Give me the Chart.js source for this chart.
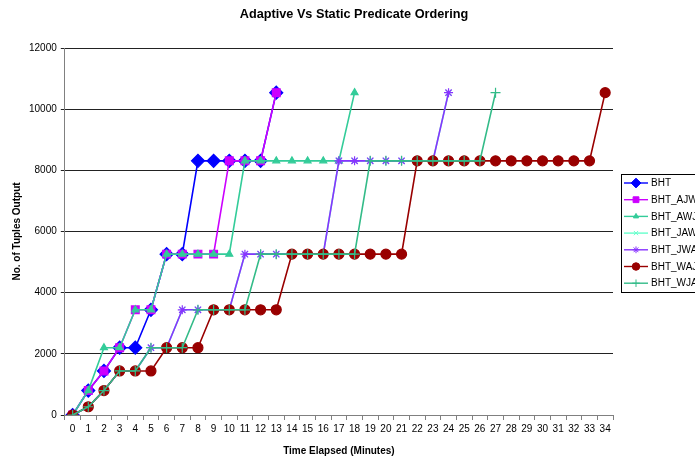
<!DOCTYPE html>
<html>
<head>
<meta charset="utf-8">
<title>Adaptive Vs Static Predicate Ordering</title>
<script src="https://cdn.jsdelivr.net/npm/chart.js@4/dist/chart.umd.min.js"></script>
<style>
  html, body { margin: 0; padding: 0; background: #fff; overflow: hidden; }
  #box { width: 695px; height: 459px; }
</style>
</head>
<body>
<div id="box"><canvas id="chart" width="695" height="459"></canvas></div>
<script>
// data (minutes 0..34, tuples output)
const minutes = ['0','1','2','3','4','5','6','7','8','9','10','11','12','13','14','15','16',
  '17','18','19','20','21','22','23','24','25','26','27','28','29','30','31','32','33','34'];
const yTicks = [0, 2000, 4000, 6000, 8000, 10000, 12000];

const bht    = [0, 800, 1440, 2200, 2200, 3440, 5260, 5260, 8310, 8310, 8310, 8310, 8310, 10540];
const bhtAJW = [0, 800, 1440, 2200, 3440, 3440, 5260, 5260, 5260, 5260, 8310, 8310, 8310, 10540];
const bhtAWJ = [0, 800, 2200, 2200, 3440, 3440, 5260, 5260, 5260, 5260, 5260, 8310, 8310, 8310,
  8310, 8310, 8310, 8310, 10540];
const bhtJAW = [0, 270, 800, 1440, 1440, 2200, 2200, 3440, 3440, 3440, 3440, 5260, 5260, 5260,
  5260, 5260, 5260, 8310, 8310, 8310, 8310, 8310, 8310, 8310, 10540];
const bhtJWA = [0, 270, 800, 1440, 1440, 2200, 2200, 3440, 3440, 3440, 3440, 5260, 5260, 5260,
  5260, 5260, 5260, 8310, 8310, 8310, 8310, 8310, 8310, 8310, 10540];
const bhtWAJ = [0, 270, 800, 1440, 1440, 1440, 2200, 2200, 2200, 3440, 3440, 3440, 3440, 3440,
  5260, 5260, 5260, 5260, 5260, 5260, 5260, 5260, 8310, 8310, 8310, 8310, 8310, 8310, 8310,
  8310, 8310, 8310, 8310, 8310, 10540];
const bhtWJA = [0, 270, 800, 1440, 1440, 2200, 2200, 2200, 3440, 3440, 3440, 3440, 5260, 5260,
  5260, 5260, 5260, 5260, 5260, 8310, 8310, 8310, 8310, 8310, 8310, 8310, 8310, 10540];

const chartTitle = 'Adaptive Vs Static Predicate Ordering';
const FONT = "'Liberation Sans', Arial, sans-serif";

Chart.defaults.font.family = FONT;
Chart.defaults.font.size = 10;
Chart.defaults.color = '#000';

function series(label, data, color, style, radius, order) {
  return {
    label: label,
    data: data,
    borderColor: color,
    backgroundColor: color,
    borderWidth: 1.6,
    pointStyle: style,
    pointRadius: radius,
    pointHoverRadius: radius,
    pointBackgroundColor: color,
    pointBorderColor: color,
    pointBorderWidth: 1.2,
    tension: 0,
    fill: false,
    order: order // later series on top, like the original
  };
}

// title + legend box (legend runs off the right edge, as in the picture)
const sideLegend = {
  id: 'sideLegend',
  afterDraw(chart) {
    const ctx = chart.ctx;
    ctx.save();
    ctx.fillStyle = '#000';
    ctx.font = 'bold 12.7px ' + FONT;
    ctx.textAlign = 'center';
    ctx.textBaseline = 'middle';
    ctx.fillText(chartTitle, 354, 14);

    const x0 = 621, y0 = 174, rowH = 16.7;
    ctx.strokeStyle = '#000';
    ctx.lineWidth = 1;
    ctx.strokeRect(x0 + 0.5, y0 + 0.5, 120, 118);
    ctx.font = '10px ' + FONT;
    ctx.textAlign = 'left';
    chart.data.datasets.forEach((ds, i) => {
      const y = y0 + 9 + i * rowH;
      ctx.strokeStyle = ds.borderColor;
      ctx.fillStyle = ds.borderColor;
      ctx.lineWidth = 1.4;
      ctx.beginPath();
      ctx.moveTo(x0 + 3, y);
      ctx.lineTo(x0 + 27, y);
      ctx.stroke();
      ctx.lineWidth = 1;
      Chart.helpers.drawPoint(ctx, {
        pointStyle: ds.pointStyle, radius: ds.pointRadius * 0.75, rotation: 0, borderWidth: 1
      }, x0 + 15, y);
      ctx.fillStyle = '#000';
      ctx.fillText(ds.label, x0 + 30, y + 0.5);
    });
    ctx.restore();
  }
};

new Chart(document.getElementById('chart'), {
  type: 'line',
  data: {
    labels: minutes,
    datasets: [
      series('BHT', bht, '#0000FF', 'rectRot', 6.5, 6),
      series('BHT_AJW', bhtAJW, '#CC00FF', 'rect', 5.5, 5),
      series('BHT_AWJ', bhtAWJ, '#33CC99', 'triangle', 4, 4),
      series('BHT_JAW', bhtJAW, '#66FFCC', 'crossRot', 4, 3),
      series('BHT_JWA', bhtJWA, '#8833FF', 'star', 4.5, 2),
      series('BHT_WAJ', bhtWAJ, '#990000', 'circle', 5, 1),
      series('BHT_WJA', bhtWJA, '#33BB88', 'cross', 5, 0)
    ]
  },
  options: {
    responsive: false,
    animation: false,
    devicePixelRatio: 1,
    layout: { padding: { top: 48, right: 82, bottom: 0, left: 0 } },
    plugins: {
      legend: { display: false },
      title: { display: false },
      tooltip: { enabled: false }
    },
    scales: {
      x: {
        type: 'category',
        offset: true,
        grid: { display: true, offset: true, drawOnChartArea: false, tickLength: 5, color: '#808080' },
        border: { display: true, color: '#808080' },
        ticks: { padding: 3, autoSkip: false, maxRotation: 0, font: { size: 10 } },
        title: {
          display: true, text: 'Time Elapsed (Minutes)',
          font: { size: 10, weight: 'bold' }, padding: { top: 7, bottom: 2 }
        }
      },
      y: {
        min: 0,
        max: 12000,
        afterBuildTicks(scale) { scale.ticks = yTicks.map(v => ({ value: v })); },
        grid: { color: '#222222', tickLength: 4, lineWidth: 1 },
        border: { display: true, color: '#808080' },
        ticks: { padding: 4, font: { size: 10 }, callback: (v) => String(v) },
        title: {
          display: true, text: 'No. of Tuples Output',
          font: { size: 10, weight: 'bold' }, padding: { top: 11, bottom: 2 }
        }
      }
    }
  },
  plugins: [sideLegend]
});
</script>
</body>
</html>
